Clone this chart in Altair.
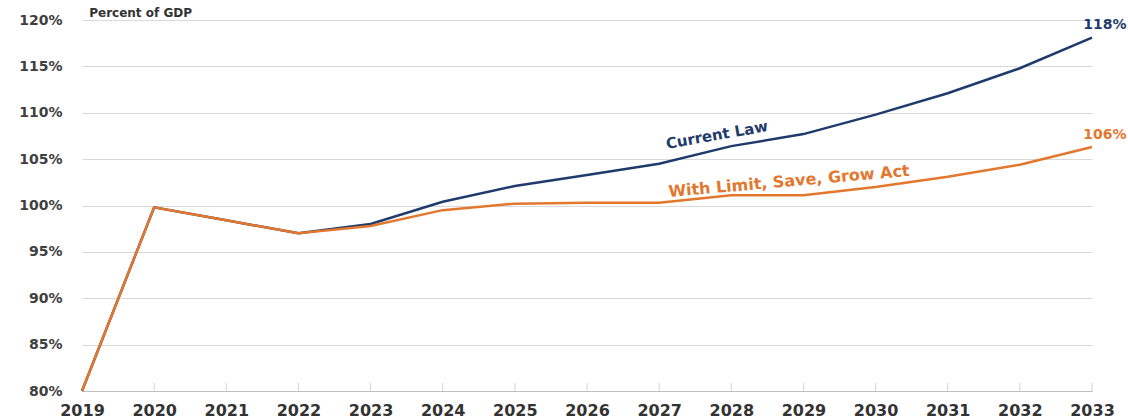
import altair as alt
import pandas as pd

years = list(range(2019, 2034))
current_law = [80.0, 99.8, 98.4, 97.0, 98.0, 100.4, 102.1, 103.3, 104.5, 106.4, 107.7, 109.8, 112.1, 114.8, 118.1]
limit_save_grow = [80.0, 99.8, 98.4, 97.0, 97.8, 99.5, 100.2, 100.3, 100.3, 101.1, 101.1, 102.0, 103.1, 104.4, 106.3]
series_names = ["Current Law", "With Limit, Save, Grow Act"]
colors = ["#1F3B6B", "#E3772E"]

y_ticks = [80, 85, 90, 95, 100, 105, 110, 115, 120]

rows = []
for name, vals in zip(series_names, [current_law, limit_save_grow]):
    for yr, v in zip(years, vals):
        rows.append({"year": yr, "value": v, "series": name})
df = pd.DataFrame(rows)

# annotation labels
ann_text = ["Current Law", "With Limit, Save, Grow Act", "118%", "106%"]
ann_x = [2027.8, 2028.8, 2033.18, 2033.18]
ann_y = [107.6, 102.6, 119.5, 107.6]
ann_angle = [350, 355, 0, 0]
ann_size = [15, 16, 14, 14]
ann_series = ["Current Law", "With Limit, Save, Grow Act", "Current Law", "With Limit, Save, Grow Act"]
ann = pd.DataFrame({"text": ann_text, "year": ann_x, "value": ann_y, "angle": ann_angle,
                    "fs": ann_size, "series": ann_series})

x_scale = alt.Scale(domain=[2019, 2033], nice=False, zero=False)
y_scale = alt.Scale(domain=[80, 120], nice=False, zero=False)
color_scale = alt.Scale(domain=series_names, range=colors)

base = alt.Chart(df)

lines = base.mark_line(strokeWidth=2.5).encode(
    x=alt.X("year:Q", scale=x_scale,
            axis=alt.Axis(values=years, format="d", title=None, grid=False,
                          labelFontSize=16, labelFontWeight="bold", labelColor="#333333",
                          labelPadding=11, domainColor="#BFBFBF", tickColor="#BFBFBF",
                          tickSize=0, labelFlush=False)),
    y=alt.Y("value:Q", scale=y_scale,
            axis=alt.Axis(values=y_ticks, labelExpr="datum.value + '%'", title=None,
                          gridColor="#D9D9D9", gridWidth=1, domain=False, ticks=False,
                          labelFontSize=14, labelFontWeight="bold", labelColor="#404040",
                          labelPadding=20)),
    color=alt.Color("series:N", scale=color_scale, legend=None),
    detail="series:N",
)

ticks_df = pd.DataFrame({"year": years[1:], "value": [80] * (len(years) - 1)})
ticks = alt.Chart(ticks_df).mark_tick(orient="vertical", size=8, color="#BFBFBF", yOffset=-4, thickness=1).encode(
    x=alt.X("year:Q", scale=x_scale),
    y=alt.Y("value:Q", scale=y_scale),
)

labels = alt.Chart(ann).mark_text(fontWeight="bold", font="DejaVu Sans").encode(
    x=alt.X("year:Q", scale=x_scale),
    y=alt.Y("value:Q", scale=y_scale),
    text="text:N",
    angle=alt.Angle("angle:Q", scale=None),
    size=alt.Size("fs:Q", scale=None, legend=None),
    color=alt.Color("series:N", scale=color_scale, legend=None),
)

title_df = pd.DataFrame({"year": [2019.1], "value": [120.8], "text": ["Percent of GDP"]})
title = alt.Chart(title_df).mark_text(align="left", fontSize=12, fontWeight="bold", color="#333333",
                                      font="DejaVu Sans").encode(
    x=alt.X("year:Q", scale=x_scale),
    y=alt.Y("value:Q", scale=y_scale),
    text="text:N",
)

chart = alt.layer(lines, ticks, labels, title).properties(
    width=1010, height=371,
    autosize=alt.AutoSizeParams(type="none"),
    padding={"left": 82, "top": 20, "right": 36, "bottom": 28},
    background="white",
).configure_view(stroke=None).configure_axis(labelFont="DejaVu Sans")

chart.save("out.html", embed_options={"renderer": "svg", "actions": False})
